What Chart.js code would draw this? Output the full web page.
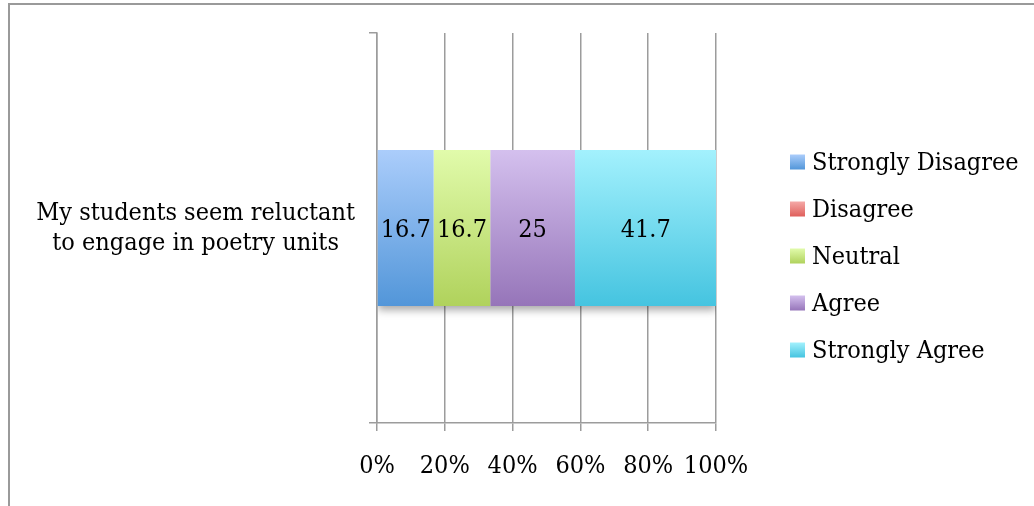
<!DOCTYPE html>
<html>
<head>
<meta charset="utf-8">
<title>Poetry units survey</title>
<script src="https://cdn.jsdelivr.net/npm/chart.js@4.4.1/dist/chart.umd.min.js"></script>
<style>
  html, body { margin: 0; padding: 0; background: #fff; }
  #wrap  { position: relative; width: 1034px; height: 506px; overflow: hidden; }
  #frame { position: absolute; left: 8px; top: 3px; width: 1040px; height: 520px;
           border-left: 2px solid #9a9a9a; border-top: 2px solid #9a9a9a; }
  canvas { position: absolute; left: 0; top: 0; }
</style>
</head>
<body>
<div id="wrap">
  <div id="frame"></div>
  <canvas id="chart" width="1034" height="506"></canvas>
</div>
<script>
// ── data ────────────────────────────────────────────
const categories = [['My students seem reluctant', 'to engage in poetry units']];
const seriesNames = ['Strongly Disagree', 'Disagree', 'Neutral', 'Agree', 'Strongly Agree'];

const stronglyDisagree = [16.7];
const disagree         = [0];
const neutral          = [16.7];
const agree            = [25];
const stronglyAgree    = [41.7];

const xTicks = [0, 20, 40, 60, 80, 100];

// ── look ────────────────────────────────────────────
const FONT      = "'DejaVu Serif Condensed', 'Liberation Serif', serif";
const FONT_SIZE = 25;
const GRID      = '#9c9c9c';

// top / bottom of each gradient
const topColors    = ['#abcdfb', '#f5a9a7', '#e1fbab', '#d4c0ee', '#a3f1fd'];
const bottomColors = ['#5296d9', '#df5f5b', '#b0d25c', '#9675b9', '#45c4e0'];
const keyColors    = ['#7db1ec', '#ea8583', '#c8e585', '#b59bd3', '#72d9f0'];

const seriesValues = [stronglyDisagree, disagree, neutral, agree, stronglyAgree];

function barFill(i) {
  return (ctx) => {
    const chart = ctx.chart;
    const y = chart.scales.y;
    if (ctx.type !== 'data' || !chart.chartArea || !y) return keyColors[i];
    const band = y.height / categories.length;
    const mid  = y.getPixelForValue(ctx.dataIndex);
    const g = chart.ctx.createLinearGradient(0, mid - band * 0.2, 0, mid + band * 0.2);
    g.addColorStop(0, topColors[i]);
    g.addColorStop(1, bottomColors[i]);
    return g;
  };
}

// soft drop shadow under each stacked bar (only below it)
const barShadow = {
  id: 'barShadow',
  beforeDatasetsDraw(chart) {
    const ctx = chart.ctx;
    const bars = chart.data.datasets
      .map((ds, di) => chart.getDatasetMeta(di).data)
      .flat()
      .filter(b => b && Math.abs(b.x - b.base) > 0);
    if (!bars.length) return;
    const left   = Math.min(...bars.map(b => Math.min(b.x, b.base)));
    const right  = Math.min(chart.chartArea.right, Math.max(...bars.map(b => Math.max(b.x, b.base))));
    const top    = bars[0].y - bars[0].height / 2;
    const bottom = bars[0].y + bars[0].height / 2;
    ctx.save();
    ctx.beginPath();
    ctx.rect(left, bottom, right - left, 20);
    ctx.clip();
    ctx.shadowColor = 'rgba(0,0,0,0.35)';
    ctx.shadowBlur = 8;
    ctx.shadowOffsetY = 4;
    ctx.fillStyle = '#fff';
    ctx.fillRect(left, top, right - left, bottom - top);
    ctx.restore();
  }
};

// value text in the middle of every non-empty segment
const segmentLabels = {
  id: 'segmentLabels',
  afterDatasetsDraw(chart) {
    const ctx = chart.ctx;
    ctx.save();
    ctx.font = `${FONT_SIZE}px ${FONT}`;
    ctx.fillStyle = '#000';
    ctx.textAlign = 'center';
    ctx.textBaseline = 'middle';
    chart.data.datasets.forEach((ds, di) => {
      chart.getDatasetMeta(di).data.forEach((bar, i) => {
        const v = ds.data[i];
        if (!v) return;
        ctx.fillText(String(v), (bar.x + bar.base) / 2, bar.y + 2);
      });
    });
    ctx.restore();
  }
};

// key on the right, one row per dataset, gradient swatches
const KEY_OFFSET = 74;   // from plot right edge to swatch
const KEY_PITCH  = 47;
const KEY_BOX    = 15;

const sideKey = {
  id: 'sideKey',
  afterDraw(chart) {
    const ctx = chart.ctx;
    const sets = chart.data.datasets;
    const x = chart.chartArea.right + KEY_OFFSET;
    const midY = chart.height / 2 + 3;
    ctx.save();
    ctx.font = `${FONT_SIZE}px ${FONT}`;
    ctx.textAlign = 'left';
    ctx.textBaseline = 'middle';
    sets.forEach((ds, i) => {
      const cy = midY + (i - (sets.length - 1) / 2) * KEY_PITCH;
      const top = cy - KEY_BOX / 2;
      const g = ctx.createLinearGradient(0, top, 0, top + KEY_BOX);
      g.addColorStop(0, topColors[i]);
      g.addColorStop(1, bottomColors[i]);
      ctx.fillStyle = g;
      ctx.fillRect(x, top, KEY_BOX, KEY_BOX);
      ctx.fillStyle = '#000';
      ctx.fillText(ds.label, x + KEY_BOX + 7, cy + 1);
    });
    ctx.restore();
  }
};

new Chart(document.getElementById('chart'), {
  type: 'bar',
  data: {
    labels: categories,
    datasets: seriesNames.map((name, i) => ({
      label: name,
      data: seriesValues[i],
      backgroundColor: barFill(i),
      borderWidth: 0,
      barPercentage: 0.4,
      categoryPercentage: 1,
    })),
  },
  options: {
    indexAxis: 'y',
    responsive: false,
    animation: false,
    layout: { padding: { top: 33, bottom: 25, left: 0, right: 318 } },
    plugins: {
      legend: { display: false },
      tooltip: { enabled: false },
    },
    scales: {
      x: {
        stacked: true,
        min: 0,
        max: 100,
        afterBuildTicks: (s) => { s.ticks = xTicks.map(v => ({ value: v })); },
        ticks: {
          color: '#000',
          padding: 20,
          font: { family: FONT, size: FONT_SIZE },
          callback: v => v + '%',
          maxRotation: 0,
        },
        grid: { color: GRID, lineWidth: 1.5, tickLength: 8 },
        border: { color: GRID, width: 1.5 },
        afterFit: (s) => { s.height = 58; },
      },
      y: {
        stacked: true,
        ticks: {
          color: '#000',
          padding: 14,
          crossAlign: 'center',
          font: { family: FONT, size: FONT_SIZE },
        },
        grid: { drawOnChartArea: false, color: GRID, lineWidth: 1.5, tickLength: 8, offset: true },
        border: { color: GRID, width: 1.5 },
        afterFit: (s) => { s.width = 377; s.paddingTop = 0; s.paddingBottom = 0; },
      },
    },
  },
  plugins: [barShadow, segmentLabels, sideKey],
});
</script>
</body>
</html>
